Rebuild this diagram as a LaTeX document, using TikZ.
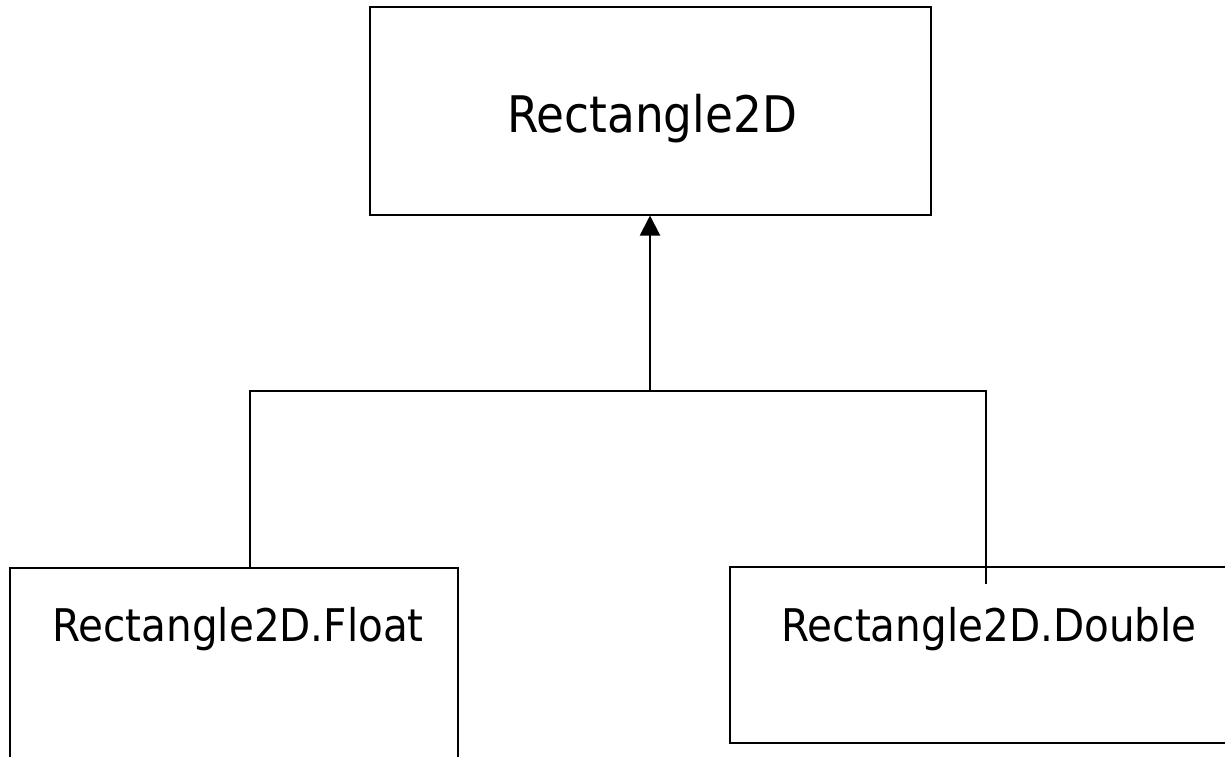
\documentclass[tikz,border=0pt]{standalone}
\usepackage{fontspec}
\setmainfont{DejaVu Sans}
\usetikzlibrary{arrows.meta}
\tikzset{
  box/.style={draw=black, line width=2pt, rectangle, inner sep=0pt},
  lbl/.style={anchor=base, inner sep=0pt},
  wire/.style={draw=black, line width=2pt},
  inherit/.style={wire, -{Triangle[length=20pt,width=20pt]}}
}
\newcommand{\bigname}[1]{\scalebox{0.9}[1]{\fontsize{50.4}{60}\selectfont #1}}
\newcommand{\subname}[1]{\scalebox{0.9}[1]{\fontsize{45}{54}\selectfont #1}}
\begin{document}
\begin{tikzpicture}[x=1pt, y=-1pt]
  \useasboundingbox (0,0) rectangle (1225,756);
  % class boxes
  \node[box, minimum width=560.5pt, minimum height=207.5pt] (top) at (650.25,110.75) {};
  \node[box, minimum width=448pt, minimum height=240pt] (lf) at (234,688) {};
  \node[box, minimum width=510pt, minimum height=176pt] (rt) at (985,655) {};
  % class names
  \node[lbl] (toptxt) at (652,132) {\bigname{Rectangle2D}};
  \node[lbl] (lftxt) at (238,641) {\subname{Rectangle2D.Float}};
  \node[lbl] (rttxt) at (989,641) {\subname{Rectangle2D.Double}};
  % inheritance tree
  \coordinate (j) at (650,391);
  \coordinate (jl) at (250,391);
  \coordinate (jr) at (986,391);
  \coordinate (re) at (986,584);
  \draw[inherit] (j) -- (top.south -| j);
  \draw[wire] (jl |- lf.north) -- (jl) -- (jr) -- (re);
\end{tikzpicture}
\end{document}
